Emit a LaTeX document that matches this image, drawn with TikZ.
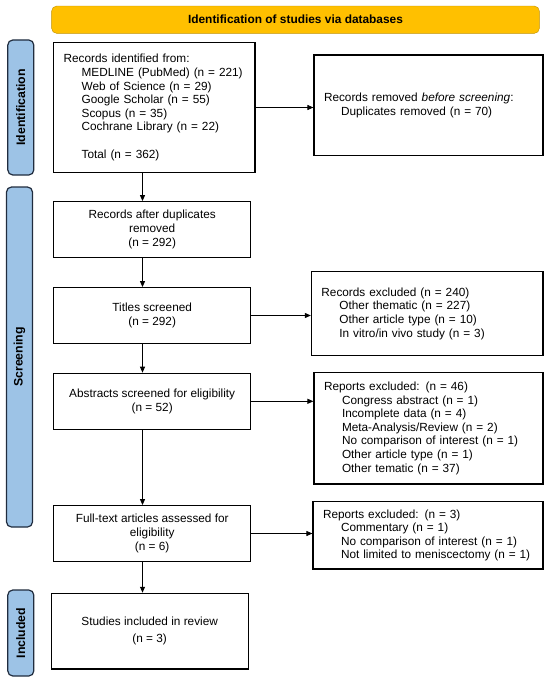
\documentclass[tikz,border=0pt]{standalone}
\usepackage{fontspec}
\setmainfont{Liberation Sans}
\usetikzlibrary{arrows.meta}
\definecolor{bannergold}{RGB}{255,192,0}
\definecolor{bannerrim}{RGB}{191,144,0}
\definecolor{phaseblue}{RGB}{157,195,230}
\definecolor{phaserim}{RGB}{32,44,62}

\begin{document}
\begin{tikzpicture}[x=1pt, y=-1pt,
  font=\fontsize{11.8}{13.6}\selectfont,
  >={Triangle[length=6pt,width=5pt]},
  box/.style={draw, line width=1.2pt, inner xsep=10pt, inner ysep=0pt},
  listbox/.style={box, align=left},
  flowbox/.style={box, align=center, minimum width=197pt},
  phase/.style={draw=phaserim, fill=phaseblue, line width=1.2pt, rounded corners=5pt,
    rotate=90, minimum height=26pt, font=\fontsize{12.3}{14}\selectfont\bfseries},
  link/.style={->, line width=0.9pt}]
  \useasboundingbox (0,0) rectangle (550,682);

  % header and phases
  \node[draw=bannerrim, fill=bannergold, rounded corners=5pt, minimum width=487.7pt,
    minimum height=27.3pt, font=\fontsize{11.9}{13}\selectfont\bfseries] (banner)
    at (295.5,19.7) {Identification of studies via databases};
  \node[phase, minimum width=135pt] (idphase) at (20.8,107.5) {Identification};
  \node[phase, minimum width=340pt] (scphase) at (19.5,357) {Screening};
  \node[phase, minimum width=86pt] (inphase) at (20.8,633) {Included};

  % left column
  \node[listbox, text width=181.3pt, minimum height=130.4pt] (ident) at (154.3,107.5)
    {Records identified from:\\
     \hspace*{18pt}MEDLINE (PubMed) (n = 221)\\
     \hspace*{18pt}Web of Science (n = 29)\\
     \hspace*{18pt}Google Scholar (n = 55)\\
     \hspace*{18pt}Scopus (n = 35)\\
     \hspace*{18pt}Cochrane Library (n = 22)\\[13.6pt]
     \hspace*{18pt}Total (n = 362)};
  \node[flowbox, minimum height=55.6pt] (after) at (152.2,229.5)
    {Records after duplicates\\removed\\(n = 292)};
  \node[flowbox, minimum height=55.6pt] (titles) at (152.2,315.5)
    {Titles screened\\(n = 292)};
  \node[flowbox, minimum height=56pt] (abstracts) at (152.2,401.3)
    {Abstracts screened for eligibility\\(n = 52)};
  \node[flowbox, minimum height=55.6pt] (fulltext) at (152.2,533.5)
    {Full-text articles assessed for\\eligibility\\(n = 6)};
  \node[flowbox, minimum height=75.7pt] (included) at (149.7,631.2)
    {Studies included in review\\[3pt](n = 3)};

  % right column
  \node[listbox, text width=209pt, minimum height=100.7pt] (dup) at (428.5,105.4)
    {Records removed \textit{before screening}:\\
     \hspace*{17pt}Duplicates removed (n = 70)};
  \node[listbox, text width=211.5pt, minimum height=84pt] (exclA) at (427.2,313.7)
    {Records excluded (n = 240)\\
     \hspace*{18pt}Other thematic (n = 227)\\
     \hspace*{18pt}Other article type (n = 10)\\
     \hspace*{18pt}In vitro/in vivo study (n = 3)};
  \node[listbox, text width=209pt, minimum height=111.7pt] (exclB) at (428.5,428.2)
    {Reports excluded: (n = 46)\\
     \hspace*{18pt}Congress abstract (n = 1)\\
     \hspace*{18pt}Incomplete data (n = 4)\\
     \hspace*{18pt}Meta-Analysis/Review (n = 2)\\
     \hspace*{18pt}No comparison of interest (n = 1)\\
     \hspace*{18pt}Other article type (n = 1)\\
     \hspace*{18pt}Other tematic (n = 37)};
  \node[listbox, text width=210pt, minimum height=67.3pt] (exclC) at (428,535.4)
    {Reports excluded: (n = 3)\\
     \hspace*{18pt}Commentary (n = 1)\\
     \hspace*{18pt}No comparison of interest (n = 1)\\
     \hspace*{18pt}Not limited to meniscectomy (n = 1)};

  % arrows
  \coordinate (spine) at (142.5,0);
  \draw[link] (ident.south -| spine) -- (after.north -| spine);
  \draw[link] (after.south -| spine) -- (titles.north -| spine);
  \draw[link] (titles.south -| spine) -- (abstracts.north -| spine);
  \draw[link] (abstracts.south -| spine) -- (fulltext.north -| spine);
  \draw[link] (fulltext.south -| spine) -- (included.north -| spine);
  \draw[link] (ident.east) -- (ident.east -| dup.west);
  \draw[link] (titles.east) -- (titles.east -| exclA.west);
  \draw[link] (abstracts.east) -- (abstracts.east -| exclB.west);
  \draw[link] (fulltext.east) -- (fulltext.east -| exclC.west);
\end{tikzpicture}
\end{document}
